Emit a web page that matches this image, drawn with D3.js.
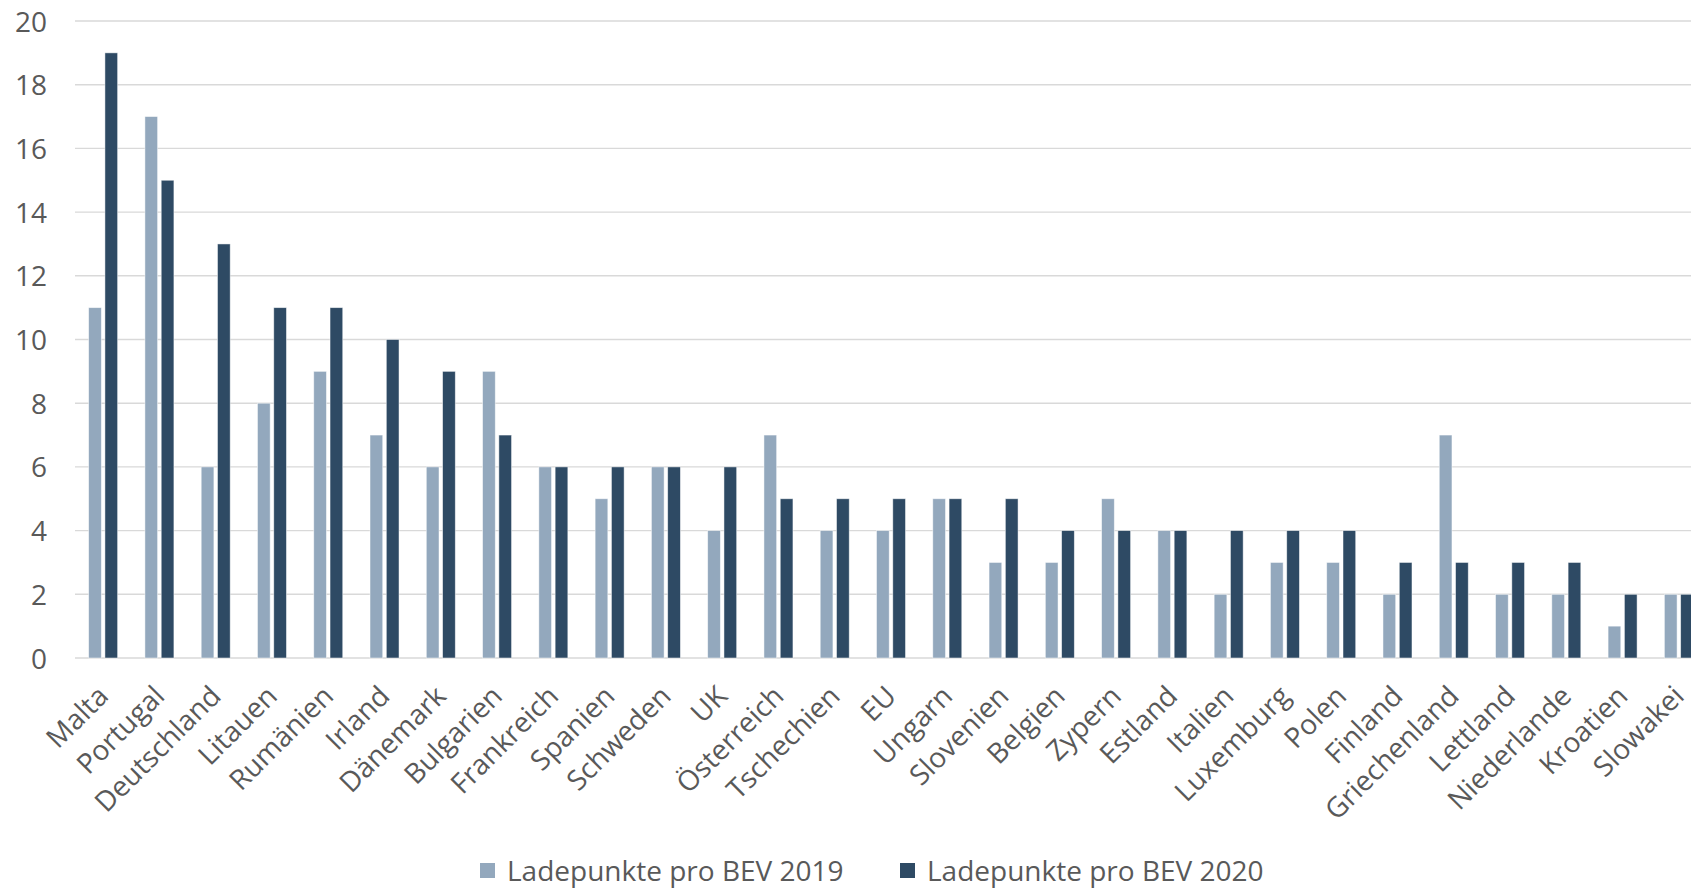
<!DOCTYPE html>
<html>
<head>
<meta charset="utf-8">
<script src="https://cdn.jsdelivr.net/npm/d3@7"></script>
<style>
  html, body { margin: 0; padding: 0; background: #fff; overflow: hidden; }
  svg { display: block; }
  text { font-family: "Open Sans", "Noto Sans", sans-serif; fill: #595959; }
</style>
</head>
<body>
<svg id="chart" width="1691" height="889"></svg>
<script>
// Ladepunkte je batterieelektrischem Fahrzeug (BEV), 2019 vs. 2020
const countries = ["Malta", "Portugal", "Deutschland", "Litauen", "Rumänien", "Irland", "Dänemark",
  "Bulgarien", "Frankreich", "Spanien", "Schweden", "UK", "Österreich", "Tschechien", "EU",
  "Ungarn", "Slovenien", "Belgien", "Zypern", "Estland", "Italien", "Luxemburg", "Polen",
  "Finland", "Griechenland", "Lettland", "Niederlande", "Kroatien", "Slowakei"];
const values2019 = [11, 17, 6, 8, 9, 7, 6, 9, 6, 5, 6, 4, 7, 4, 4, 5, 3, 3, 5, 4, 2, 3, 3, 2, 7, 2, 2, 1, 2];
const values2020 = [19, 15, 13, 11, 11, 10, 9, 7, 6, 6, 6, 6, 5, 5, 5, 5, 5, 4, 4, 4, 4, 4, 4, 3, 3, 3, 3, 2, 2];
const seriesNames = ["Ladepunkte pro BEV 2019", "Ladepunkte pro BEV 2020"];
const seriesColors = ["#93a8bd", "#2e4a64"];
const yTicks = [0, 2, 4, 6, 8, 10, 12, 14, 16, 18, 20];

const svg = d3.select("#chart");
const plot = { left: 75, right: 1707, top: 21, bottom: 658 };

const x0 = d3.scaleBand().domain(countries).range([plot.left, plot.right]).paddingInner(0).paddingOuter(0);
const groupW = 29;
const x1 = d3.scaleBand().domain([0, 1])
  .range([x0.bandwidth() / 2 - groupW / 2, x0.bandwidth() / 2 + groupW / 2])
  .paddingInner(0.22).paddingOuter(0);
const y = d3.scaleLinear().domain([0, 20]).range([plot.bottom, plot.top]);

// horizontal gridlines
svg.append("g")
  .selectAll("line")
  .data(yTicks)
  .join("line")
  .attr("x1", plot.left).attr("x2", plot.right)
  .attr("y1", d => y(d)).attr("y2", d => y(d))
  .attr("stroke", "#d9d9d9").attr("stroke-width", 1.4);

// y-axis labels
const yAxis = d3.axisLeft(y).tickValues(yTicks).tickSize(0).tickPadding(0);
const yg = svg.append("g").attr("transform", `translate(${plot.left - 28},0)`).call(yAxis);
yg.select(".domain").remove();
yg.selectAll("text").attr("font-size", 28).attr("fill", "#595959")
  .style("font-family", "'Open Sans', sans-serif").attr("dy", "0.36em");

// bars
const rows = countries.map((c, i) => ({ c, v: [values2019[i], values2020[i]] }));
const groups = svg.append("g").selectAll("g")
  .data(rows)
  .join("g")
  .attr("transform", d => `translate(${x0(d.c)},0)`);
groups.selectAll("rect")
  .data(d => d.v.map((v, k) => ({ k, v })))
  .join("rect")
  .attr("x", d => x1(d.k))
  .attr("width", x1.bandwidth())
  .attr("y", d => y(d.v))
  .attr("height", d => y(0) - y(d.v))
  .attr("fill", d => seriesColors[d.k])
  .attr("stroke", "#ffffff").attr("stroke-opacity", 0.6).attr("stroke-width", 0.8);

// rotated category labels
svg.append("g").selectAll("text")
  .data(countries)
  .join("text")
  .attr("transform", d => `translate(${x0(d) + x0.bandwidth() / 2 - 8},${plot.bottom + 25}) rotate(-45)`)
  .attr("text-anchor", "end")
  .attr("dy", "0.75em")
  .attr("font-size", 28)
  .text(d => d);

// legend
const legend = svg.append("g");
const legendX = [480, 900];
seriesNames.forEach((name, k) => {
  const g = legend.append("g").attr("transform", `translate(${legendX[k]},863)`);
  g.append("rect").attr("width", 15).attr("height", 15).attr("fill", seriesColors[k]);
  g.append("text").attr("x", 27).attr("y", 7.5).attr("dy", "0.36em")
    .attr("font-size", 28).text(name);
});
</script>
</body>
</html>
